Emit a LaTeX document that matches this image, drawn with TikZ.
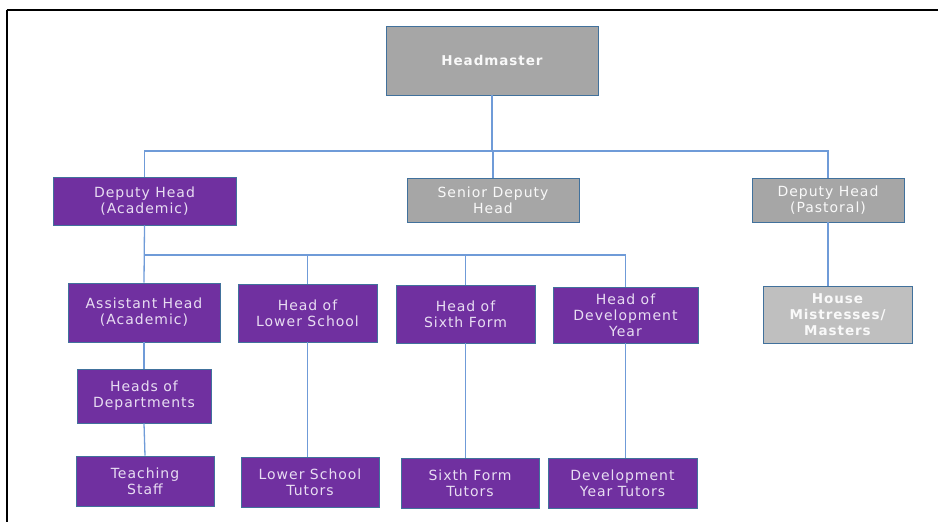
\documentclass[tikz,border=0pt]{standalone}
\usepackage{fontspec}
\setmainfont{DejaVu Sans}
\newfontfamily\orgfont[LetterSpace=7]{DejaVu Sans}
\definecolor{orgPurple}{HTML}{7030A0}
\definecolor{orgGray}{HTML}{A6A6A6}
\definecolor{orgLight}{HTML}{BFBFBF}
\definecolor{orgEdge}{HTML}{41719C}
\definecolor{orgLink}{HTML}{6F9BD8}
\definecolor{orgText}{HTML}{E8DDF2}
\usetikzlibrary{positioning, calc}

\begin{document}
\begin{tikzpicture}[x=1pt, y=-1pt,
  role/.style={draw=orgEdge, line width=0.8pt, align=center, inner sep=0pt,
    font=\orgfont\fontsize{14}{16}\selectfont},
  acad/.style={role, fill=orgPurple, text=orgText},
  senior/.style={role, fill=orgGray, text=white!95!gray},
  house/.style={role, fill=orgLight, text=white!95!gray, font=\orgfont\fontsize{13.5}{16}\selectfont\bfseries},
  link/.style={orgLink, line width=1.3pt}]

  \useasboundingbox (0,0) rectangle (938,522);

  % Frame edges (top and left only)
  \draw[line width=2pt] (6.5,10) -- (938,10);
  \draw[line width=2pt] (6.5,10) -- (6.5,522);

  % Top tier
  \node[senior, minimum width=212, minimum height=69, font=\orgfont\fontsize{13.5}{16}\selectfont\bfseries]
    (head) at (492,60.5) {Headmaster};

  % Deputy tier
  \node[acad, minimum width=183, minimum height=48] (dha) at (144.5,201)
    {Deputy Head\\(Academic)};
  \node[senior, minimum width=172, minimum height=44] (sdh) at (493,200)
    {Senior Deputy\\Head};
  \node[senior, minimum width=152, minimum height=44] (dhp) at (828,200)
    {Deputy Head\\(Pastoral)};

  % Heads tier
  \node[acad, minimum width=152, minimum height=59] (aha) at (144,312.5)
    {Assistant Head\\(Academic)};
  \node[acad, minimum width=139, minimum height=58] (hls) at (307.5,313)
    {Head of\\Lower School};
  \node[acad, minimum width=139, minimum height=58] (hsf) at (465.5,314)
    {Head of\\Sixth Form};
  \node[acad, minimum width=145, minimum height=56] (hdy) at (625.5,315)
    {Head of\\Development\\Year};
  \node[house, minimum width=149, minimum height=57] (hms) at (837.5,314.5)
    {House\\Mistresses/\\Masters};

  % Departments and tutors
  \node[acad, minimum width=134, minimum height=54] (hod) at (144,396)
    {Heads of\\Departments};
  \node[acad, minimum width=138, minimum height=50] (ts) at (145,481)
    {Teaching\\Staff};
  \node[acad, minimum width=138, minimum height=50] (lst) at (310,482)
    {Lower School\\Tutors};
  \node[acad, minimum width=138, minimum height=50] (sft) at (470,483)
    {Sixth Form\\Tutors};
  \node[acad, minimum width=149, minimum height=50] (dyt) at (622.5,483)
    {Development\\Year Tutors};

  % Bus lines
  \coordinate (busTop) at (0,151);
  \coordinate (busAcad) at (0,255);

  % Headmaster to deputies
  \draw[link] (head.south) -- (head.south |- busTop);
  \draw[link] (dha.north) |- (dhp.north |- busTop) -- (dhp.north);
  \draw[link] (sdh.north) -- (sdh.north |- busTop);

  % Academic deputy to heads
  \draw[link] (dha.south) -- (aha.north);
  \draw[link] (dha.south |- busAcad) -| (hdy.north);
  \draw[link] (hls.north) -- (hls.north |- busAcad);
  \draw[link] (hsf.north) -- (hsf.north |- busAcad);

  % Pastoral deputy
  \draw[link] (dhp.south) -- (dhp.south |- hms.north);

  % Down the columns
  \draw[link] (aha.south) -- (hod.north);
  \draw[link] (hod.south) -- (ts.north);
  \draw[link] (hls.south) -- (hls.south |- lst.north);
  \draw[link] (hsf.south) -- (hsf.south |- sft.north);
  \draw[link] (hdy.south) -- (hdy.south |- dyt.north);
\end{tikzpicture}
\end{document}
